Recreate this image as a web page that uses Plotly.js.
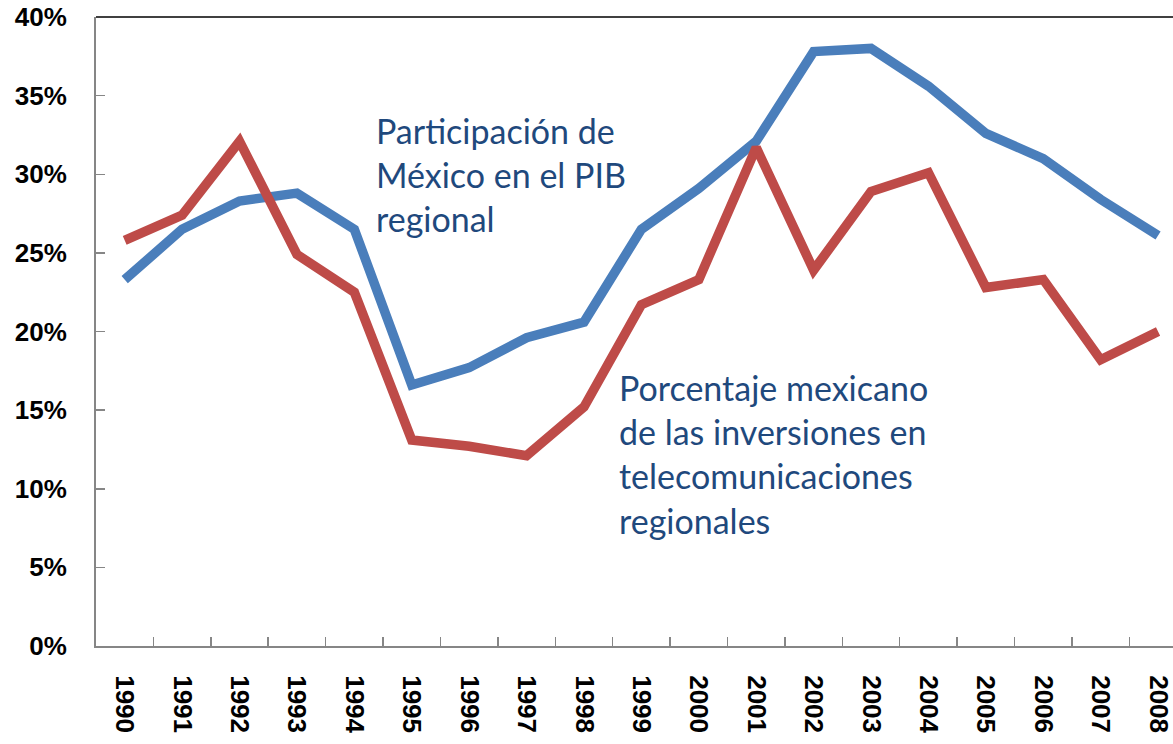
<!DOCTYPE html>
<html>
<head>
<meta charset="utf-8">
<script src="https://cdn.plot.ly/plotly-3.0.1.min.js"></script>
<style>html,body{margin:0;padding:0;background:#fff;}#chart{width:1173px;height:744px;}</style>
</head>
<body>
<div id="chart"></div>
<script>
const years = ["1990","1991","1992","1993","1994","1995","1996","1997","1998","1999","2000","2001","2002","2003","2004","2005","2006","2007","2008"];
const pibShare = [23.3,26.5,28.3,28.8,26.5,16.6,17.7,19.6,20.6,26.5,29.1,32.1,37.8,38.0,35.6,32.6,31.0,28.4,26.1];
const telecomShare = [25.8,27.4,32.1,24.9,22.5,13.1,12.7,12.1,15.2,21.7,23.3,31.7,23.9,28.9,30.1,22.8,23.3,18.2,20.0];
const yTicks = [0,5,10,15,20,25,30,35,40];
const yTickLabels = ["0%","5%","10%","15%","20%","25%","30%","35%","40%"];
const pibLabel = "Participación de<br>México en el PIB<br>regional";
const telecomLabel = "Porcentaje mexicano<br>de las inversiones en<br>telecomunicaciones<br>regionales";

const traces = [
  {x: years, y: pibShare, type: "scatter", mode: "lines", name: "PIB",
   line: {color: "#4A7EBB", width: 9.5}},
  {x: years, y: telecomShare, type: "scatter", mode: "lines", name: "Telecom",
   line: {color: "#BE4B48", width: 9.5}}
];

const tickFont = {family: "'Liberation Sans', Arial, sans-serif", size: 26, color: "#000", weight: "bold"};
const noteFont = {family: "Lato, 'Open Sans', sans-serif", size: 34, color: "#1F497D"};

const layout = {
  width: 1173, height: 744,
  margin: {l: 96, r: 0, t: 17, b: 98, pad: 0},
  paper_bgcolor: "#fff", plot_bgcolor: "#fff",
  showlegend: false,
  xaxis: {
    type: "category", range: [-0.5, 18.26], automargin: false,
    showgrid: false, zeroline: false,
    showline: true, linecolor: "#868686", linewidth: 2,
    ticks: "inside", ticklen: 9, tickwidth: 1.5, tickcolor: "#868686",
    tickson: "boundaries", tickangle: 90, ticklabelstandoff: 22,
    tickfont: tickFont
  },
  yaxis: {
    range: [0, 40], automargin: false,
    showgrid: false, zeroline: false,
    showline: true, linecolor: "#868686", linewidth: 2,
    ticks: "inside", ticklen: 9, tickwidth: 1.5, tickcolor: "#868686",
    tickmode: "array", tickvals: yTicks, ticktext: yTickLabels,
    ticklabelstandoff: 22,
    tickfont: tickFont
  },
  shapes: [
    {type: "line", xref: "paper", yref: "paper", x0: 0, x1: 1, y0: 1, y1: 1,
     line: {color: "#000", width: 1.5}}
  ],
  annotations: [
    {text: pibLabel, xref: "paper", yref: "paper", x: 0.258, y: 0.750,
     xanchor: "left", yanchor: "middle", align: "left", showarrow: false, font: noteFont},
    {text: telecomLabel, xref: "paper", yref: "paper", x: 0.484, y: 0.306,
     xanchor: "left", yanchor: "middle", align: "left", showarrow: false, font: noteFont}
  ]
};

Plotly.newPlot("chart", traces, layout, {displayModeBar: false, staticPlot: true});
</script>
</body>
</html>
